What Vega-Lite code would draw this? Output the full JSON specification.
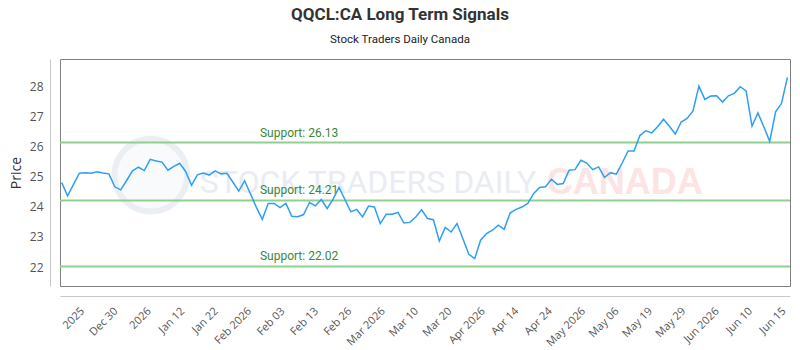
{
  "$schema": "https://vega.github.io/schema/vega-lite/v6.json",
  "width": 730,
  "height": 227,
  "autosize": "none",
  "padding": {"left": 60, "top": 59, "right": 10, "bottom": 64},
  "background": "white",
  "title": {
    "text": "QQCL:CA Long Term Signals",
    "subtitle": "Stock Traders Daily Canada",
    "anchor": "middle",
    "frame": "group",
    "dx": -25,
    "offset": 13,
    "font": "Roboto",
    "fontSize": 17,
    "fontWeight": "bold",
    "color": "#333333",
    "subtitleFont": "Roboto",
    "subtitleFontSize": 11.5,
    "subtitleColor": "#222222",
    "subtitlePadding": 10
  },
  "config": {
    "view": {"stroke": "#808080", "strokeWidth": 1},
    "axis": {
      "labelFont": "Open Sans",
      "titleFont": "Open Sans",
      "domainColor": "#c8c8c8",
      "ticks": false,
      "labelOverlap": false,
      "labelBound": false,
      "labelFlush": false
    },
    "axisX": {
      "labelAngle": -45,
      "labelFontSize": 11,
      "labelColor": "#555555",
      "labelPadding": 9,
      "offset": 10,
      "grid": false
    },
    "axisY": {
      "offset": 10,
      "grid": true,
      "gridColor": "#e8e8e8",
      "gridDash": [4, 4],
      "labelFontSize": 12,
      "labelColor": "#555555",
      "labelPadding": 7,
      "titleFontSize": 14,
      "titleFontWeight": "normal",
      "titleColor": "#333333",
      "titlePadding": 6
    }
  },
  "resolve": {"axis": {"x": "independent", "y": "independent"}},
  "datasets": {
    "prices": [
      {"i": 0, "price": 24.80}, {"i": 1, "price": 24.36}, {"i": 2, "price": 24.74}, {"i": 3, "price": 25.11},
      {"i": 4, "price": 25.13}, {"i": 5, "price": 25.11}, {"i": 6, "price": 25.16}, {"i": 7, "price": 25.12},
      {"i": 8, "price": 25.09}, {"i": 9, "price": 24.66}, {"i": 10, "price": 24.56}, {"i": 11, "price": 24.87},
      {"i": 12, "price": 25.19}, {"i": 13, "price": 25.31}, {"i": 14, "price": 25.20}, {"i": 15, "price": 25.57},
      {"i": 16, "price": 25.52}, {"i": 17, "price": 25.48}, {"i": 18, "price": 25.21}, {"i": 19, "price": 25.34},
      {"i": 20, "price": 25.44}, {"i": 21, "price": 25.17}, {"i": 22, "price": 24.71}, {"i": 23, "price": 25.06},
      {"i": 24, "price": 25.12}, {"i": 25, "price": 25.05}, {"i": 26, "price": 25.19}, {"i": 27, "price": 25.09},
      {"i": 28, "price": 25.11}, {"i": 29, "price": 24.82}, {"i": 30, "price": 24.52}, {"i": 31, "price": 24.86},
      {"i": 32, "price": 24.42}, {"i": 33, "price": 23.98}, {"i": 34, "price": 23.58}, {"i": 35, "price": 24.11},
      {"i": 36, "price": 24.11}, {"i": 37, "price": 23.97}, {"i": 38, "price": 24.11}, {"i": 39, "price": 23.68},
      {"i": 40, "price": 23.67}, {"i": 41, "price": 23.74}, {"i": 42, "price": 24.14}, {"i": 43, "price": 24.03},
      {"i": 44, "price": 24.24}, {"i": 45, "price": 23.94}, {"i": 46, "price": 24.25}, {"i": 47, "price": 24.64},
      {"i": 48, "price": 24.24}, {"i": 49, "price": 23.83}, {"i": 50, "price": 23.91}, {"i": 51, "price": 23.66},
      {"i": 52, "price": 24.02}, {"i": 53, "price": 23.99}, {"i": 54, "price": 23.44}, {"i": 55, "price": 23.75},
      {"i": 56, "price": 23.75}, {"i": 57, "price": 23.81}, {"i": 58, "price": 23.46}, {"i": 59, "price": 23.48},
      {"i": 60, "price": 23.66}, {"i": 61, "price": 23.90}, {"i": 62, "price": 23.61}, {"i": 63, "price": 23.57},
      {"i": 64, "price": 22.86}, {"i": 65, "price": 23.31}, {"i": 66, "price": 23.16}, {"i": 67, "price": 23.44},
      {"i": 68, "price": 22.94}, {"i": 69, "price": 22.42}, {"i": 70, "price": 22.28}, {"i": 71, "price": 22.89},
      {"i": 72, "price": 23.11}, {"i": 73, "price": 23.22}, {"i": 74, "price": 23.39}, {"i": 75, "price": 23.25},
      {"i": 76, "price": 23.79}, {"i": 77, "price": 23.91}, {"i": 78, "price": 23.99}, {"i": 79, "price": 24.11},
      {"i": 80, "price": 24.44}, {"i": 81, "price": 24.64}, {"i": 82, "price": 24.66}, {"i": 83, "price": 24.91},
      {"i": 84, "price": 24.74}, {"i": 85, "price": 24.77}, {"i": 86, "price": 25.21}, {"i": 87, "price": 25.23},
      {"i": 88, "price": 25.54}, {"i": 89, "price": 25.45}, {"i": 90, "price": 25.23}, {"i": 91, "price": 25.32},
      {"i": 92, "price": 24.97}, {"i": 93, "price": 25.13}, {"i": 94, "price": 25.08}, {"i": 95, "price": 25.45},
      {"i": 96, "price": 25.85}, {"i": 97, "price": 25.85}, {"i": 98, "price": 26.36}, {"i": 99, "price": 26.52},
      {"i": 100, "price": 26.45}, {"i": 101, "price": 26.65}, {"i": 102, "price": 26.90}, {"i": 103, "price": 26.67},
      {"i": 104, "price": 26.41}, {"i": 105, "price": 26.81}, {"i": 106, "price": 26.93}, {"i": 107, "price": 27.18},
      {"i": 108, "price": 28.00}, {"i": 109, "price": 27.56}, {"i": 110, "price": 27.67}, {"i": 111, "price": 27.68},
      {"i": 112, "price": 27.47}, {"i": 113, "price": 27.68}, {"i": 114, "price": 27.76}, {"i": 115, "price": 27.98},
      {"i": 116, "price": 27.84}, {"i": 117, "price": 26.67}, {"i": 118, "price": 27.11}, {"i": 119, "price": 26.65},
      {"i": 120, "price": 26.17}, {"i": 121, "price": 27.15}, {"i": 122, "price": 27.43}, {"i": 123, "price": 28.29}
    ],
    "levels": [
      {"kind": "Support", "level": 26.13},
      {"kind": "Support", "level": 24.21},
      {"kind": "Support", "level": 22.02}
    ],
    "brand": [
      {"part": "name", "text": "STOCK TRADERS DAILY"},
      {"part": "country", "text": "CANADA"}
    ]
  },
  "layer": [
    {
      "data": {"name": "brand"},
      "transform": [{"filter": "datum.part === 'name'"}],
      "mark": {"type": "point", "shape": "circle", "size": 5300, "filled": false, "fill": "#f7f9fb", "stroke": "#e3e8ef", "strokeWidth": 6},
      "encoding": {
        "x": {"datum": 15.1, "type": "quantitative", "axis": null},
        "y": {"datum": 25.05, "type": "quantitative", "axis": null}
      }
    },
    {
      "data": {"name": "brand"},
      "transform": [{"filter": "datum.part === 'name'"}],
      "mark": {"type": "text", "align": "left", "baseline": "alphabetic", "font": "Roboto", "fontSize": 32, "fill": "#e9edf3"},
      "encoding": {
        "x": {"datum": 23.4, "type": "quantitative", "axis": null},
        "y": {"datum": 24.45, "type": "quantitative", "axis": null},
        "text": {"field": "text"}
      }
    },
    {
      "data": {"name": "brand"},
      "transform": [{"filter": "datum.part === 'country'"}],
      "mark": {"type": "text", "align": "left", "baseline": "alphabetic", "font": "Liberation Sans, Arial", "fontWeight": "bold", "fontSize": 36, "fill": "#fde4e4"},
      "encoding": {
        "x": {"datum": 82.2, "type": "quantitative", "axis": null},
        "y": {"datum": 24.42, "type": "quantitative", "axis": null},
        "text": {"field": "text"}
      }
    },
    {
      "data": {"name": "levels"},
      "mark": {"type": "rule", "color": "#90cf90", "strokeWidth": 2},
      "encoding": {"y": {"field": "level", "type": "quantitative", "axis": null}}
    },
    {
      "data": {"name": "levels"},
      "transform": [{"calculate": "datum.kind + ': ' + format(datum.level, '.2f')", "as": "label"}],
      "mark": {"type": "text", "align": "left", "baseline": "bottom", "dy": -3, "font": "Roboto", "fontSize": 12, "fill": "#3a873a"},
      "encoding": {
        "x": {"datum": 33.6, "type": "quantitative", "axis": null},
        "y": {"field": "level", "type": "quantitative", "axis": null},
        "text": {"field": "label"}
      }
    },
    {
      "data": {"name": "prices"},
      "mark": {"type": "line", "color": "#2f9ef5", "strokeWidth": 1.5},
      "encoding": {
        "x": {
          "field": "i",
          "type": "quantitative",
          "scale": {"domain": [-0.29, 123.44], "nice": false, "zero": false},
          "axis": {
            "title": null,
            "values": [2.79, 8.45, 14.11, 19.77, 25.43, 31.10, 36.76, 42.42, 48.08, 53.74, 59.40, 65.06, 70.72, 76.38, 82.04, 87.71, 93.37, 99.03, 104.69, 110.35, 116.01, 121.67],
            "labelExpr": "['2025','Dec 30','2026','Jan 12','Jan 22','Feb 2026','Feb 03','Feb 13','Feb 26','Mar 2026','Mar 10','Mar 20','Apr 2026','Apr 14','Apr 24','May 2026','May 06','May 19','May 29','Jun 2026','Jun 10','Jun 15'][round((datum.value - 2.79) / 5.661)]"
          }
        },
        "y": {
          "field": "price",
          "type": "quantitative",
          "scale": {"domain": [21.37, 28.9], "nice": false, "zero": false},
          "axis": {"title": "Price", "values": [22, 23, 24, 25, 26, 27, 28]}
        }
      }
    }
  ]
}
